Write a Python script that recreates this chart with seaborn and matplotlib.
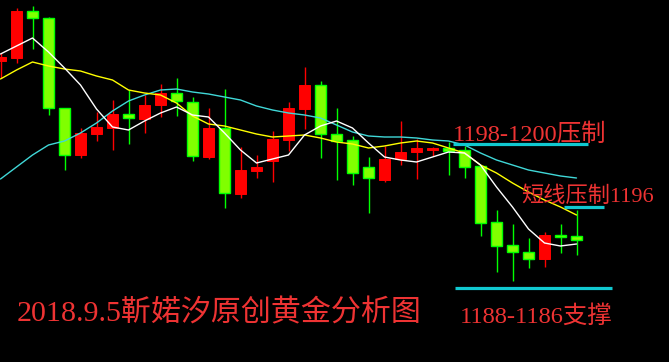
import matplotlib
matplotlib.use("Agg")
import matplotlib.pyplot as plt
import seaborn as sns
import numpy as np
import pandas as pd

# ---------------- data ----------------
opens = [1208.9, 1209.2, 1213.9, 1213.2, 1204.2, 1199.5, 1201.6, 1202.2, 1203.6, 1203.1,
         1204.5, 1205.7, 1204.8, 1199.3, 1202.2, 1195.6, 1197.9, 1198.9, 1201.0, 1204.1,
         1206.5, 1201.6, 1201.0, 1198.3, 1197.0, 1199.1, 1199.8, 1200.0, 1200.2, 1200.0,
         1198.4, 1192.8, 1190.5, 1189.8, 1189.1, 1191.5, 1191.4]
closes = [1209.3, 1213.9, 1213.2, 1204.2, 1199.5, 1201.7, 1202.3, 1203.6, 1203.2, 1204.5,
          1205.7, 1204.9, 1199.4, 1202.2, 1195.7, 1198.0, 1198.3, 1201.1, 1204.2, 1206.5,
          1201.6, 1200.9, 1197.7, 1197.2, 1199.1, 1199.8, 1200.2, 1200.2, 1199.9, 1198.3,
          1192.7, 1190.4, 1189.8, 1189.1, 1191.5, 1191.3, 1191.0]
highs = [1209.7, 1214.2, 1214.4, 1213.3, 1204.2, 1202.2, 1203.8, 1205.0, 1206.0, 1205.5,
         1206.6, 1207.2, 1205.3, 1204.2, 1206.1, 1200.3, 1199.5, 1201.9, 1204.8, 1208.3,
         1206.9, 1204.2, 1201.4, 1199.3, 1200.4, 1202.9, 1201.1, 1200.3, 1200.8, 1200.4,
         1198.4, 1194.0, 1192.6, 1191.2, 1191.8, 1192.6, 1194.0]
lows = [1207.2, 1208.7, 1210.1, 1203.5, 1198.0, 1199.2, 1200.9, 1200.0, 1200.6, 1201.7,
        1203.3, 1203.4, 1198.9, 1199.1, 1194.2, 1195.2, 1197.2, 1196.8, 1199.9, 1202.1,
        1199.2, 1197.0, 1196.5, 1193.7, 1196.8, 1198.5, 1197.1, 1199.4, 1197.5, 1197.2,
        1191.4, 1187.8, 1186.9, 1188.2, 1188.3, 1189.7, 1189.5]

ma_white = [1209.6, 1210.4, 1211.2, 1209.8, 1208.2, 1206.5, 1204.1, 1202.3, 1202.0, 1202.9,
            1203.7, 1204.3, 1203.5, 1203.3, 1201.7, 1200.0, 1198.7, 1199.1, 1199.5, 1201.5,
            1202.4, 1202.9, 1202.2, 1200.7, 1199.3, 1199.0, 1198.8, 1199.3, 1199.8, 1199.7,
            1198.5, 1196.3, 1194.3, 1192.1, 1190.7, 1190.4, 1190.6]
ma_yellow = [1207.1, 1208.0, 1208.8, 1208.4, 1208.1, 1207.9, 1207.4, 1207.0, 1206.0, 1205.7,
             1205.5, 1204.7, 1203.4, 1202.6, 1202.4, 1202.0, 1201.6, 1201.3, 1201.4, 1201.5,
             1201.2, 1200.8, 1200.6, 1200.2, 1200.4, 1200.7, 1200.9, 1200.7, 1200.2, 1199.7,
             1198.5, 1197.7, 1196.7, 1195.8, 1195.0, 1194.3, 1193.5]
ma_cyan = [1197.1, 1198.3, 1199.5, 1200.5, 1200.9, 1201.7, 1202.7, 1203.9, 1204.9, 1205.5,
           1206.0, 1206.1, 1205.8, 1205.6, 1205.3, 1205.0, 1204.4, 1204.0, 1203.7, 1203.5,
           1203.2, 1202.5, 1201.8, 1201.4, 1201.3, 1201.3, 1201.2, 1201.0, 1200.9, 1200.5,
           1199.7, 1199.0, 1198.5, 1198.0, 1197.7, 1197.4, 1197.2]

resist_level = 1200.6
short_level = 1194.3
support_level = 1186.2

title_text = "2018.9.5靳婼汐原创黄金分析图"
resist_text = "1198-1200压制"
short_text = "短线压制1196"
support_text = "1188-1186支撑"

# ---------------- style ----------------
sns.set_theme(style="dark")
plt.rcParams['font.family'] = ['Liberation Serif', 'Noto Sans CJK SC', 'DejaVu Sans']

df = pd.DataFrame({"idx": np.arange(len(opens)), "open": opens, "close": closes,
                   "high": highs, "low": lows, "w": ma_white, "y": ma_yellow, "c": ma_cyan})

fig = plt.figure(figsize=(6.69, 3.62), dpi=100, facecolor="black")
ax = fig.add_axes([0, 0, 1, 1])
ax.set_facecolor("black")

RED = "#FF0000"
GREEN_BODY = "#80FF00"
GREEN_EDGE = "#00FF00"

up = df["close"] >= df["open"]
colors_wick = np.where(up, RED, GREEN_EDGE)

# wicks
ax.vlines(df["idx"], df["low"], df["high"], colors=colors_wick, linewidth=1.0, zorder=2)

# bodies
bw = 0.66
bottoms = np.minimum(df["open"], df["close"])
heights = np.maximum(np.abs(df["close"] - df["open"]), 0.12)
ax.bar(df["idx"][up], heights[up], bottom=bottoms[up], width=bw,
       color=RED, edgecolor=RED, linewidth=0.7, zorder=3)
ax.bar(df["idx"][~up], heights[~up], bottom=bottoms[~up], width=bw,
       color=GREEN_BODY, edgecolor=GREEN_EDGE, linewidth=1.0, zorder=3)

# moving averages
sns.lineplot(data=df, x="idx", y="c", color="#40D8D8", linewidth=1.0, ax=ax, zorder=4)
sns.lineplot(data=df, x="idx", y="y", color="#FFFF00", linewidth=1.0, ax=ax, zorder=4)
sns.lineplot(data=df, x="idx", y="w", color="#FFFFFF", linewidth=1.0, ax=ax, zorder=5)

# annotation lines
LCYAN = "#10C8D0"
ax.hlines(resist_level, 28.3, 36.7, colors=LCYAN, linewidth=2.3, zorder=6)
ax.hlines(short_level, 35.2, 37.7, colors=LCYAN, linewidth=2.3, zorder=6)
ax.hlines(support_level, 28.4, 38.2, colors=LCYAN, linewidth=2.3, zorder=6)

TXT = "#EE3333"
ax.text(28.25, 1200.95, resist_text, color=TXT, fontsize=17.6, va="baseline", ha="left", zorder=7)
ax.text(32.55, 1194.85, short_text, color=TXT, fontsize=16, va="baseline", ha="left", zorder=7)
ax.text(28.7, 1182.75, support_text, color=TXT, fontsize=17.6, va="baseline", ha="left", zorder=7)
ax.text(1.0, 1182.85, title_text, color=TXT, fontsize=21.6, va="baseline", ha="left", zorder=7)

ax.set_xlim(-0.03125, 41.78125)
ax.set_ylim(1178.8, 1215.0)
ax.set_axis_off()

fig.savefig("out.png", dpi=100, facecolor="black")
